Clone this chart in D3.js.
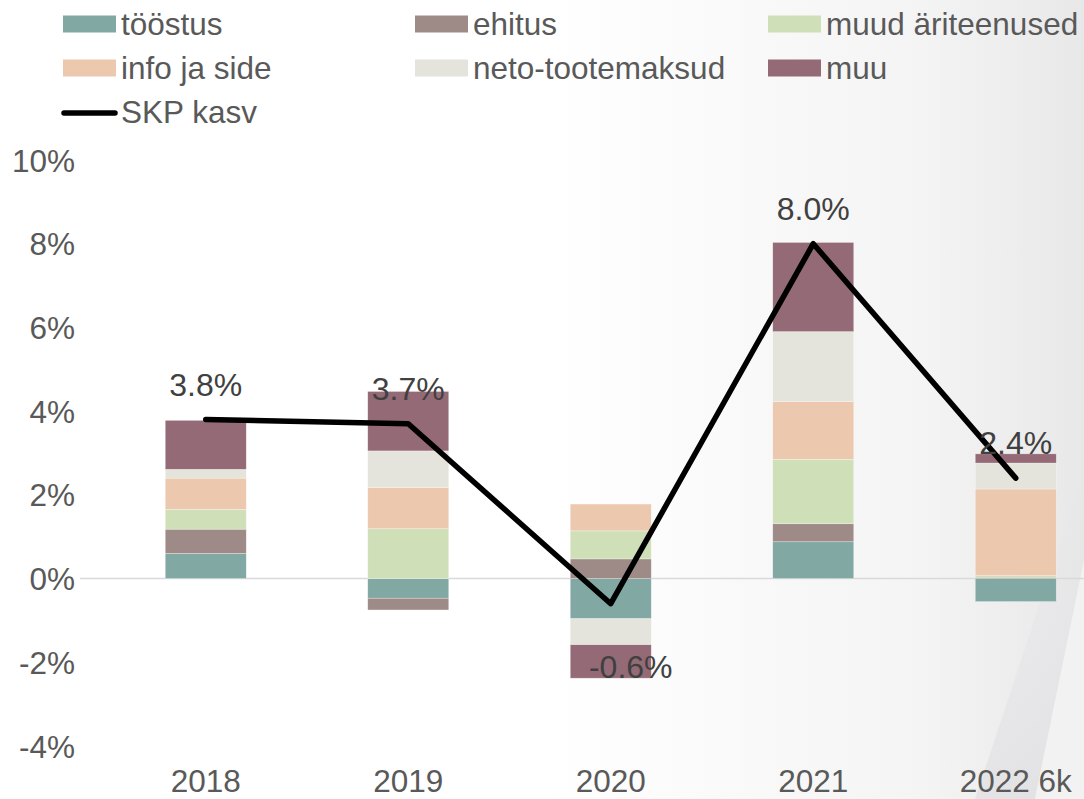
<!DOCTYPE html>
<html>
<head>
<meta charset="utf-8">
<script src="https://cdn.jsdelivr.net/npm/d3@7"></script>
<style>
  html, body { margin: 0; padding: 0; background: #fff; }
  svg { display: block; font-family: Arial, 'Liberation Sans', sans-serif; }
</style>
</head>
<body>
<svg id="chart"></svg>
<script>
let svgWidth = 1084
let svgHeight = 799

// data (percentage points)
let years = ['2018', '2019', '2020', '2021', '2022 6k']
let seriesNames = ['tööstus', 'ehitus', 'muud äriteenused', 'info ja side', 'neto-tootemaksud', 'muu']
let toostus = [0.60, -0.47, -0.96, 0.88, -0.55]
let ehitus = [0.58, -0.28, 0.47, 0.43, 0.03]
let muudAriteenused = [0.47, 1.19, 0.67, 1.54, 0.04]
let infoJaSide = [0.75, 0.99, 0.64, 1.38, 2.07]
let netoTootemaksud = [0.21, 0.87, -0.62, 1.67, 0.62]
let muu = [1.17, 1.42, -0.80, 2.13, 0.22]
let skpKasv = [3.8, 3.7, -0.6, 8.0, 2.4]
let yTicks = [-4, -2, 0, 2, 4, 6, 8, 10]
let lineName = 'SKP kasv'

let colors = ['#82a8a4', '#9e8a86', '#cfe0b8', '#ecc8ae', '#e4e4dc', '#946a76']
let seriesValues = [toostus, ehitus, muudAriteenused, infoJaSide, netoTootemaksud, muu]

let table = years.map(function(y, i) {
  let row = { year: y }
  seriesNames.forEach(function(name, j) { row[name] = seriesValues[j][i] })
  return row
})

let svg = d3.select('#chart').attr('width', svgWidth).attr('height', svgHeight)

// soft grey slide background on the right
let defs = svg.append('defs')
let bg = defs.append('linearGradient').attr('id', 'bg').attr('x1', '0').attr('x2', '1').attr('y1', '0').attr('y2', '0')
bg.append('stop').attr('offset', '0.5').attr('stop-color', '#ffffff')
bg.append('stop').attr('offset', '0.85').attr('stop-color', '#f4f4f4')
bg.append('stop').attr('offset', '1').attr('stop-color', '#e8e8e9')
let band = defs.append('linearGradient').attr('id', 'band').attr('x1', '0').attr('x2', '0').attr('y1', '0').attr('y2', '1')
band.append('stop').attr('offset', '0').attr('stop-color', '#e2e2e5').attr('stop-opacity', 0)
band.append('stop').attr('offset', '1').attr('stop-color', '#dcdce0').attr('stop-opacity', 0.6)
svg.append('rect').attr('width', svgWidth).attr('height', svgHeight).attr('fill', 'url(#bg)')
svg.append('path')
  .attr('d', 'M 975 799 L 1084 470 L 1084 560 L 1035 799 Z')
  .attr('fill', 'url(#band)')
svg.append('path')
  .attr('d', 'M 1035 799 L 1084 560 L 1084 799 Z')
  .attr('fill', '#f2f2f2')

let xScale = d3.scaleBand().domain(years).range([104.5, 1117]).paddingInner(0.6).paddingOuter(0.3)
let yScale = d3.scaleLinear().domain([-4, 10]).range([746, 160])

// y axis labels
let yAxis = d3.axisLeft(yScale).tickValues(yTicks).tickSize(0).tickPadding(0).tickFormat(function(d) { return d + '%' })
let yg = svg.append('g').attr('transform', 'translate(75, 0)').call(yAxis)
yg.select('.domain').remove()
yg.selectAll('text').attr('font-size', 31.5).attr('fill', '#595959').attr('font-family', null).attr('dy', '0.35em')

// x axis labels
let xAxis = d3.axisBottom(xScale).tickSize(0).tickPadding(0)
let xg = svg.append('g').attr('transform', 'translate(0, 792)').call(xAxis)
xg.select('.domain').remove()
xg.selectAll('text').attr('font-size', 31.5).attr('fill', '#595959').attr('font-family', null).attr('dy', '0')

// zero line
svg.append('line')
  .attr('x1', 80).attr('x2', svgWidth)
  .attr('y1', yScale(0)).attr('y2', yScale(0))
  .attr('stroke', '#d9d9d9').attr('stroke-width', 1.5)

// stacked bars
let stacked = d3.stack().keys(seriesNames).offset(d3.stackOffsetDiverging)(table)
svg.append('g').selectAll('g')
  .data(stacked)
  .join('g')
  .attr('fill', function(d, i) { return colors[i] })
  .selectAll('rect')
  .data(function(d) { return d })
  .join('rect')
  .attr('x', function(d) { return xScale(d.data.year) })
  .attr('width', xScale.bandwidth())
  .attr('y', function(d) { return yScale(Math.max(d[0], d[1])) })
  .attr('height', function(d) { return Math.abs(yScale(d[0]) - yScale(d[1])) })
  .attr('stroke', '#ffffff').attr('stroke-opacity', 0.5).attr('stroke-width', 0.6)

// GDP growth line
let line = d3.line()
  .x(function(d, i) { return xScale(years[i]) + xScale.bandwidth() / 2 })
  .y(function(d) { return yScale(d) })
svg.append('path')
  .datum(skpKasv)
  .attr('d', line)
  .attr('fill', 'none')
  .attr('stroke', '#000')
  .attr('stroke-width', 5.5)
  .attr('stroke-linejoin', 'round')
  .attr('stroke-linecap', 'round')

svg.append('g').selectAll('text')
  .data(skpKasv)
  .join('text')
  .attr('x', function(d, i) { return xScale(years[i]) + xScale.bandwidth() / 2 + (d < 0 ? 20 : 0) })
  .attr('y', function(d) { return yScale(d) + (d < 0 ? 74 : -24) })
  .attr('text-anchor', 'middle')
  .attr('font-size', 32)
  .attr('fill', '#404040')
  .text(function(d) { return d.toFixed(1) + '%' })

// legend
let legendCols = [63, 415, 768]
let legend = svg.append('g')
seriesNames.forEach(function(name, i) {
  let x = legendCols[i % 3]
  let y = 24 + Math.floor(i / 3) * 44
  legend.append('rect').attr('x', x).attr('y', y - 8.5).attr('width', 53).attr('height', 17).attr('fill', colors[i])
  legend.append('text').attr('x', x + 58).attr('y', y).attr('dy', '0.35em')
    .attr('font-size', 31.5).attr('fill', '#595959').text(name)
})
legend.append('line').attr('x1', 64).attr('x2', 115).attr('y1', 113).attr('y2', 113)
  .attr('stroke', '#000').attr('stroke-width', 5.5).attr('stroke-linecap', 'round')
legend.append('text').attr('x', 121).attr('y', 112).attr('dy', '0.35em')
  .attr('font-size', 31.5).attr('fill', '#595959').text(lineName)
</script>
</body>
</html>
